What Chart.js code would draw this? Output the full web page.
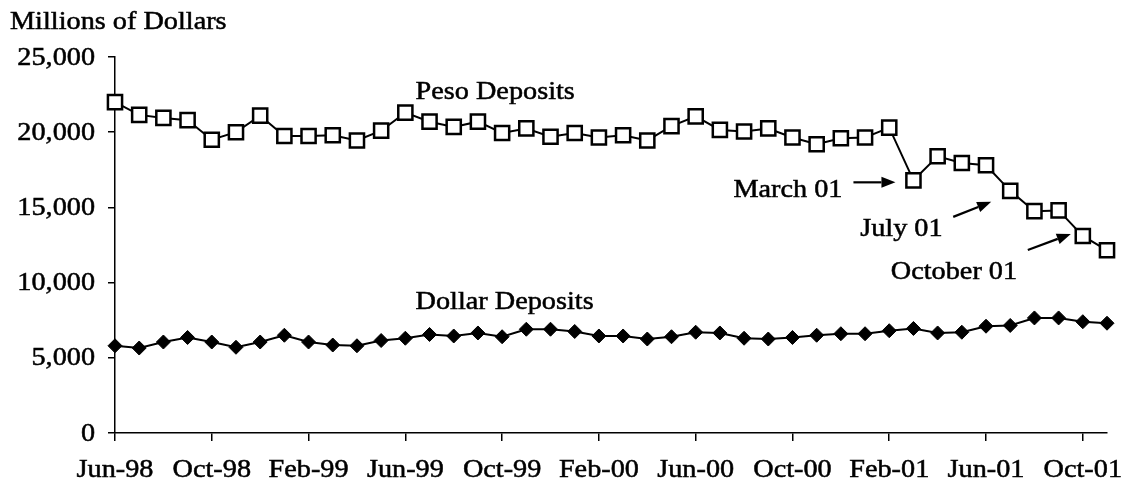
<!DOCTYPE html>
<html>
<head>
<meta charset="utf-8">
<script src="https://cdn.jsdelivr.net/npm/chart.js@4.4.1/dist/chart.umd.min.js"></script>
<style>
  html, body { margin: 0; padding: 0; background: #fff; }
  #wrap { width: 1125px; height: 493px; }
</style>
</head>
<body>
<div id="wrap"><canvas id="c" width="1125" height="493"></canvas></div>
<script>
const months = [
  'Jun-98','Jul-98','Aug-98','Sep-98','Oct-98','Nov-98','Dec-98',
  'Jan-99','Feb-99','Mar-99','Apr-99','May-99','Jun-99','Jul-99','Aug-99','Sep-99','Oct-99','Nov-99','Dec-99',
  'Jan-00','Feb-00','Mar-00','Apr-00','May-00','Jun-00','Jul-00','Aug-00','Sep-00','Oct-00','Nov-00','Dec-00',
  'Jan-01','Feb-01','Mar-01','Apr-01','May-01','Jun-01','Jul-01','Aug-01','Sep-01','Oct-01','Nov-01'
];
const pesoDeposits = [
  22000, 21150, 20950, 20800, 19500, 20000, 21100,
  19750, 19750, 19800, 19450, 20100, 21300, 20700, 20350, 20700, 19950, 20250, 19700,
  19950, 19650, 19800, 19450, 20400, 21050, 20150, 20050, 20250, 19650, 19200, 19600,
  19650, 20300, 16800, 18400, 17950, 17800, 16100, 14750, 14800, 13100, 12150
];
const dollarDeposits = [
  5800, 5650, 6050, 6350, 6050, 5700, 6050,
  6500, 6050, 5850, 5800, 6150, 6300, 6550, 6450, 6650, 6400, 6900, 6900,
  6750, 6450, 6450, 6250, 6400, 6700, 6650, 6300, 6250, 6350, 6500, 6600,
  6600, 6800, 6950, 6650, 6700, 7100, 7150, 7650, 7650, 7400, 7300
];
const yTicks = [0, 5000, 10000, 15000, 20000, 25000];
const xTickEvery = 4;
const yAxisTitle = 'Millions of Dollars';
const seriesNames = ['Peso Deposits', 'Dollar Deposits'];
const callouts = ['March 01', 'July 01', 'October 01'];
const calloutMonths = ['Mar-01', 'Jul-01', 'Oct-01'];

const FONT_PX = 25;
const SX = 1.13;
const FONT = FONT_PX + 'px "Liberation Serif", "Times New Roman", serif';

function stretchedText(ctx, text, x, y, align, baseline) {
  ctx.save();
  ctx.font = FONT;
  ctx.fillStyle = '#000';
  ctx.strokeStyle = '#000';
  ctx.lineWidth = 0.5;
  ctx.textAlign = align;
  ctx.textBaseline = baseline || 'alphabetic';
  ctx.translate(x, y);
  ctx.scale(SX, 1);
  ctx.fillText(text, 0, 0);
  ctx.strokeText(text, 0, 0);
  ctx.restore();
}

function arrow(ctx, x1, y1, x2, y2) {
  const ang = Math.atan2(y2 - y1, x2 - x1);
  const hl = 14, hw = 5.5;
  const bx = x2 - hl * Math.cos(ang), by = y2 - hl * Math.sin(ang);
  ctx.save();
  ctx.strokeStyle = '#000';
  ctx.fillStyle = '#000';
  ctx.lineWidth = 2.2;
  ctx.beginPath();
  ctx.moveTo(x1, y1);
  ctx.lineTo(bx, by);
  ctx.stroke();
  ctx.beginPath();
  ctx.moveTo(x2, y2);
  ctx.lineTo(bx + hw * Math.sin(ang), by - hw * Math.cos(ang));
  ctx.lineTo(bx - hw * Math.sin(ang), by + hw * Math.cos(ang));
  ctx.closePath();
  ctx.fill();
  ctx.restore();
}

const textPlugin = {
  id: 'textPlugin',
  afterDraw(chart) {
    const ctx = chart.ctx;
    const xs = chart.scales.x, ys = chart.scales.y;
    stretchedText(ctx, yAxisTitle, 10, 29, 'left');
    yTicks.forEach(v => {
      stretchedText(ctx, v.toLocaleString('en-US'), xs.left - 20, ys.getPixelForValue(v) + 1, 'right', 'middle');
    });
    months.forEach((m, i) => {
      if (i % xTickEvery === 0) {
        stretchedText(ctx, m, xs.getPixelForTick(i), ys.bottom + 44, 'center');
      }
    });
    const iRef = months.indexOf('Jul-99');
    stretchedText(ctx, seriesNames[0], xs.getPixelForValue(iRef) - 14, ys.getPixelForValue(pesoDeposits[iRef]) - 23, 'left');
    stretchedText(ctx, seriesNames[1], xs.getPixelForValue(iRef) - 14, ys.getPixelForValue(dollarDeposits[iRef]) - 25, 'left');
    const offs = [
      { tx: -180, ty: 17, ax1: -60, ay1: 2, ax2: -18, ay2: 2 },
      { tx: -150, ty: 45, ax1: -57, ay1: 26, ax2: -19, ay2: 11 },
      { tx: -192, ty: 43, ax1: -55, ay1: 14, ax2: -12, ay2: -2 }
    ];
    callouts.forEach((t, k) => {
      const i = months.indexOf(calloutMonths[k]);
      const px = xs.getPixelForValue(i), py = ys.getPixelForValue(pesoDeposits[i]);
      const o = offs[k];
      stretchedText(ctx, t, px + o.tx, py + o.ty, 'left');
      arrow(ctx, px + o.ax1, py + o.ay1, px + o.ax2, py + o.ay2);
    });
  }
};

new Chart(document.getElementById('c'), {
  type: 'line',
  data: {
    labels: months,
    datasets: [
      {
        label: seriesNames[0],
        data: pesoDeposits,
        borderColor: '#000',
        borderWidth: 2,
        pointStyle: 'rect',
        pointRadius: 10,
        pointBorderWidth: 2.5,
        pointBackgroundColor: '#fff',
        pointBorderColor: '#000',
        tension: 0,
        clip: false
      },
      {
        label: seriesNames[1],
        data: dollarDeposits,
        borderColor: '#000',
        borderWidth: 2,
        pointStyle: 'rectRot',
        pointRadius: 7,
        pointBorderWidth: 1,
        pointBackgroundColor: '#000',
        pointBorderColor: '#000',
        tension: 0,
        clip: false
      }
    ]
  },
  options: {
    responsive: false,
    animation: false,
    devicePixelRatio: 1,
    layout: { padding: { left: 108, right: 18, top: 57, bottom: 52 } },
    plugins: { legend: { display: false }, tooltip: { enabled: false } },
    scales: {
      x: {
        type: 'category',
        offset: false,
        grid: {
          drawOnChartArea: false,
          drawTicks: true,
          tickLength: 8,
          lineWidth: 1.5,
          color: (c) => (c.index % xTickEvery === 0 ? '#000' : 'rgba(0,0,0,0)')
        },
        border: { display: true, color: '#000', width: 1.5 },
        ticks: { display: false, autoSkip: false }
      },
      y: {
        min: 0,
        max: 25000,
        afterBuildTicks: (axis) => { axis.ticks = yTicks.map(v => ({ value: v })); },
        grid: { drawOnChartArea: false, drawTicks: true, tickLength: 7, lineWidth: 1.5, color: '#000' },
        border: { display: true, color: '#000', width: 1.5 },
        ticks: { display: false }
      }
    }
  },
  plugins: [textPlugin]
});
</script>
</body>
</html>
